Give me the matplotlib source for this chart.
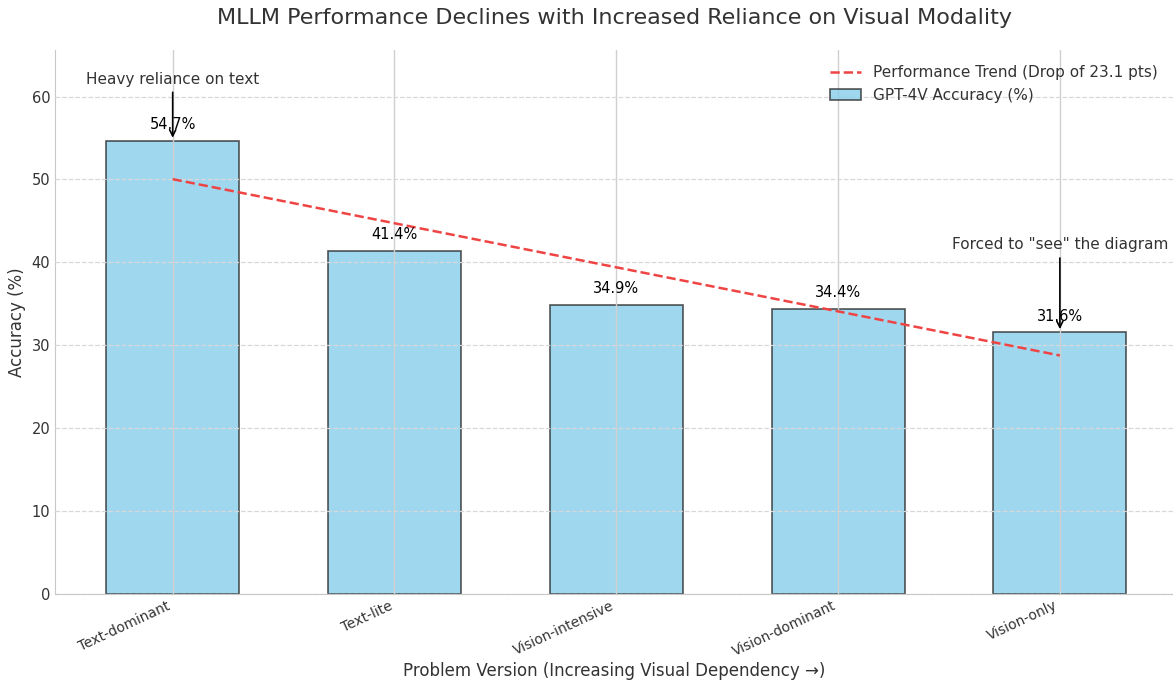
import numpy as np
import matplotlib
matplotlib.use("Agg")
import matplotlib.pyplot as plt

versions = ["Text-dominant", "Text-lite", "Vision-intensive", "Vision-dominant", "Vision-only"]
accuracy = [54.7, 41.4, 34.9, 34.4, 31.6]

plt.rcParams["font.family"] = ["DejaVu Sans"]
plt.rcParams["text.color"] = "#333333"
plt.rcParams["axes.labelcolor"] = "#333333"
plt.rcParams["xtick.color"] = "#333333"
plt.rcParams["ytick.color"] = "#333333"


def make_chart():
    fig = plt.figure(figsize=(11.73, 6.84), dpi=100)
    ax = fig.add_axes([0.047, 0.132, 0.953, 0.795])

    x = np.arange(len(versions))
    drop = accuracy[0] - accuracy[-1]

    ax.bar(x, accuracy, width=0.6, color="skyblue", alpha=0.8,
           edgecolor="#2b2b2b", linewidth=1.2, label="GPT-4V Accuracy (%)", zorder=2)

    slope, intercept = np.polyfit(x, accuracy, 1)
    ax.plot(x, slope * x + intercept, linestyle="--", color="#ee4444", linewidth=1.8,
            label=f"Performance Trend (Drop of {drop:.1f} pts)", zorder=3)

    for xi, val in zip(x, accuracy):
        ax.text(xi, val + 1, f"{val}%", ha="center", va="bottom", fontsize=10.5,
                color="black", zorder=4)

    ax.annotate("Heavy reliance on text", xy=(0, accuracy[0]), xytext=(0, 62.1),
                ha="center", va="center", fontsize=11,
                arrowprops=dict(arrowstyle="->", color="black", lw=1.2))
    ax.annotate('Forced to "see" the diagram', xy=(4, accuracy[-1]), xytext=(4, 42.1),
                ha="center", va="center", fontsize=11,
                arrowprops=dict(arrowstyle="->", color="black", lw=1.2))

    ax.set_title("MLLM Performance Declines with Increased Reliance on Visual Modality",
                 fontsize=16, pad=19)
    ax.set_xlabel("Problem Version (Increasing Visual Dependency \u2192)", fontsize=12, labelpad=2)
    ax.set_ylabel("Accuracy (%)", fontsize=12)

    ax.set_xticks(x)
    ax.set_xticklabels(versions, rotation=25, ha="right", fontsize=10)
    ax.tick_params(axis="y", labelsize=10.5)
    ax.tick_params(length=0)
    ax.set_xlim(-0.53, 4.51)
    ax.set_ylim(0, max(accuracy) * 1.2)

    ax.grid(axis="x", color="#d0d0d0", linewidth=1, zorder=1)
    ax.grid(axis="y", color="#d8d8d8", linestyle="--", linewidth=0.9, zorder=1)
    ax.set_axisbelow(False)
    for side in ["top", "right"]:
        ax.spines[side].set_visible(False)
    for side in ["left", "bottom"]:
        ax.spines[side].set_color("#c8c8c8")

    ax.legend(loc="upper right", frameon=False, fontsize=11, borderaxespad=0.6)

    fig.savefig("out.png", dpi=100)
    plt.close(fig)


if __name__ == "__main__":
    make_chart()
